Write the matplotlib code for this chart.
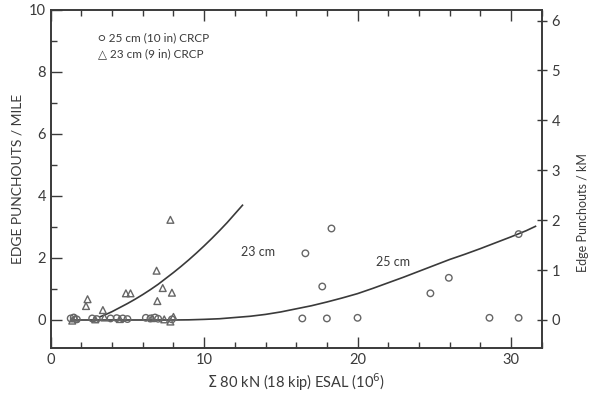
import matplotlib
matplotlib.use("Agg")
import matplotlib.pyplot as plt
from matplotlib.ticker import MultipleLocator

plt.rcParams['font.family'] = ['Lato', 'DejaVu Sans']

# 25 cm (10 in) CRCP - circles
c25_x = [16.4, 18.0, 20.0, 16.6, 18.3, 17.7, 24.75, 25.95, 30.5, 28.6, 30.5,
         1.3, 1.5, 1.7, 2.7, 3.0, 3.9, 4.3, 4.7, 5.0, 6.2, 6.5, 6.8, 7.0, 7.9]
c25_y = [0.05, 0.05, 0.07, 2.15, 2.95, 1.08, 0.86, 1.36, 2.77, 0.07, 0.07,
         0.05, 0.08, 0.02, 0.05, 0.03, 0.05, 0.06, 0.05, 0.03, 0.07, 0.05, 0.08, 0.04, 0.02]

# 23 cm (9 in) CRCP - triangles
t23_x = [7.8, 6.9, 7.3, 7.9, 6.95, 4.9, 5.2, 2.4, 2.3, 3.4,
         1.4, 1.6, 2.9, 3.5, 4.5, 6.6, 7.4, 7.8, 8.0]
t23_y = [3.23, 1.59, 1.03, 0.88, 0.61, 0.86, 0.86, 0.67, 0.45, 0.32,
         -0.02, 0.05, 0.02, 0.08, 0.03, 0.06, 0.02, -0.05, 0.1]

# fitted curves
curve23_x = [3.2, 3.6, 4, 4.5, 5, 5.5, 6, 6.5, 7, 7.5, 8, 8.5, 9, 9.5, 10, 10.5, 11, 11.5, 12, 12.5]
curve23_y = [0.10, 0.18, 0.27, 0.40, 0.53, 0.67, 0.82, 0.98, 1.15, 1.34, 1.53, 1.73, 1.94, 2.16,
             2.39, 2.63, 2.88, 3.14, 3.42, 3.70]
curve25_x = [1.3, 4, 8, 9, 10, 11, 12, 13, 14, 15, 16, 17, 18, 19, 20, 21, 22, 23, 24, 25,
             26, 27, 28, 29, 30, 31, 31.6]
curve25_y = [0.0, 0.0, 0.0, 0.005, 0.02, 0.04, 0.08, 0.12, 0.18, 0.26, 0.36, 0.46, 0.58, 0.71,
             0.85, 1.02, 1.2, 1.38, 1.57, 1.76, 1.95, 2.12, 2.3, 2.49, 2.68, 2.88, 3.02]

x_major = [0, 10, 20, 30]
y_major = [0, 2, 4, 6, 8, 10]
km_ticks = [0, 1, 2, 3, 4, 5, 6]

ink = '#3a3a3a'
fig = plt.figure(figsize=(5.9, 3.94), dpi=100)
ax = fig.add_axes([0.086, 0.117, 0.832, 0.858])

ax.plot(curve23_x, curve23_y, color=ink, lw=1.2)
ax.plot(curve25_x, curve25_y, color=ink, lw=1.2)
ax.scatter(c25_x, c25_y, marker='o', s=22, facecolors='none', edgecolors='#666666', linewidths=1.0, zorder=3)
ax.scatter(t23_x, t23_y, marker='^', s=24, facecolors='none', edgecolors='#666666', linewidths=1.0, zorder=3)

ax.set_xlim(0, 32)
ax.set_ylim(-0.9, 10)
ax.set_xticks(x_major)
ax.set_yticks(y_major)
ax.xaxis.set_minor_locator(MultipleLocator(2))
ax.yaxis.set_minor_locator(MultipleLocator(1))
ax.tick_params(which='both', direction='in', color=ink, labelcolor=ink, labelsize=10.5, top=True)
ax.tick_params(which='major', length=8, width=1)
ax.tick_params(which='minor', length=4, width=1)
ax.tick_params(axis='y', right=False)
for s in ax.spines.values():
    s.set_color(ink)
    s.set_linewidth(1.4)

ax2 = ax.twinx()
f = 1.609
ax2.set_ylim(-0.9 / f, 10 / f)
ax2.set_yticks(km_ticks)
ax2.tick_params(direction='inout', length=7, width=1, color=ink, labelcolor=ink, labelsize=10.5)
for s in ax2.spines.values():
    s.set_visible(False)

ax.set_xlabel(r'$\Sigma$ 80 kN (18 kip) ESAL (10$^6$)', color=ink, fontsize=10.5, labelpad=3)
ax.set_ylabel('EDGE PUNCHOUTS / MILE', color=ink, fontsize=10, labelpad=4)
fig.text(0.988, 0.46, 'Edge Punchouts / kM', rotation=90, ha='center', va='center', color=ink, fontsize=9)

ax.text(3.1, 9.1, '\u25cb 25 cm (10 in) CRCP', fontsize=8.5, color=ink, va='center')
ax.text(3.1, 8.6, '\u25b3 23 cm (9 in) CRCP', fontsize=8.5, color=ink, va='center')
ax.text(12.4, 2.2, '23 cm', fontsize=9, color=ink, va='center')
ax.text(21.2, 1.88, '25 cm', fontsize=9, color=ink, va='center')

fig.savefig('out.png', dpi=100)
